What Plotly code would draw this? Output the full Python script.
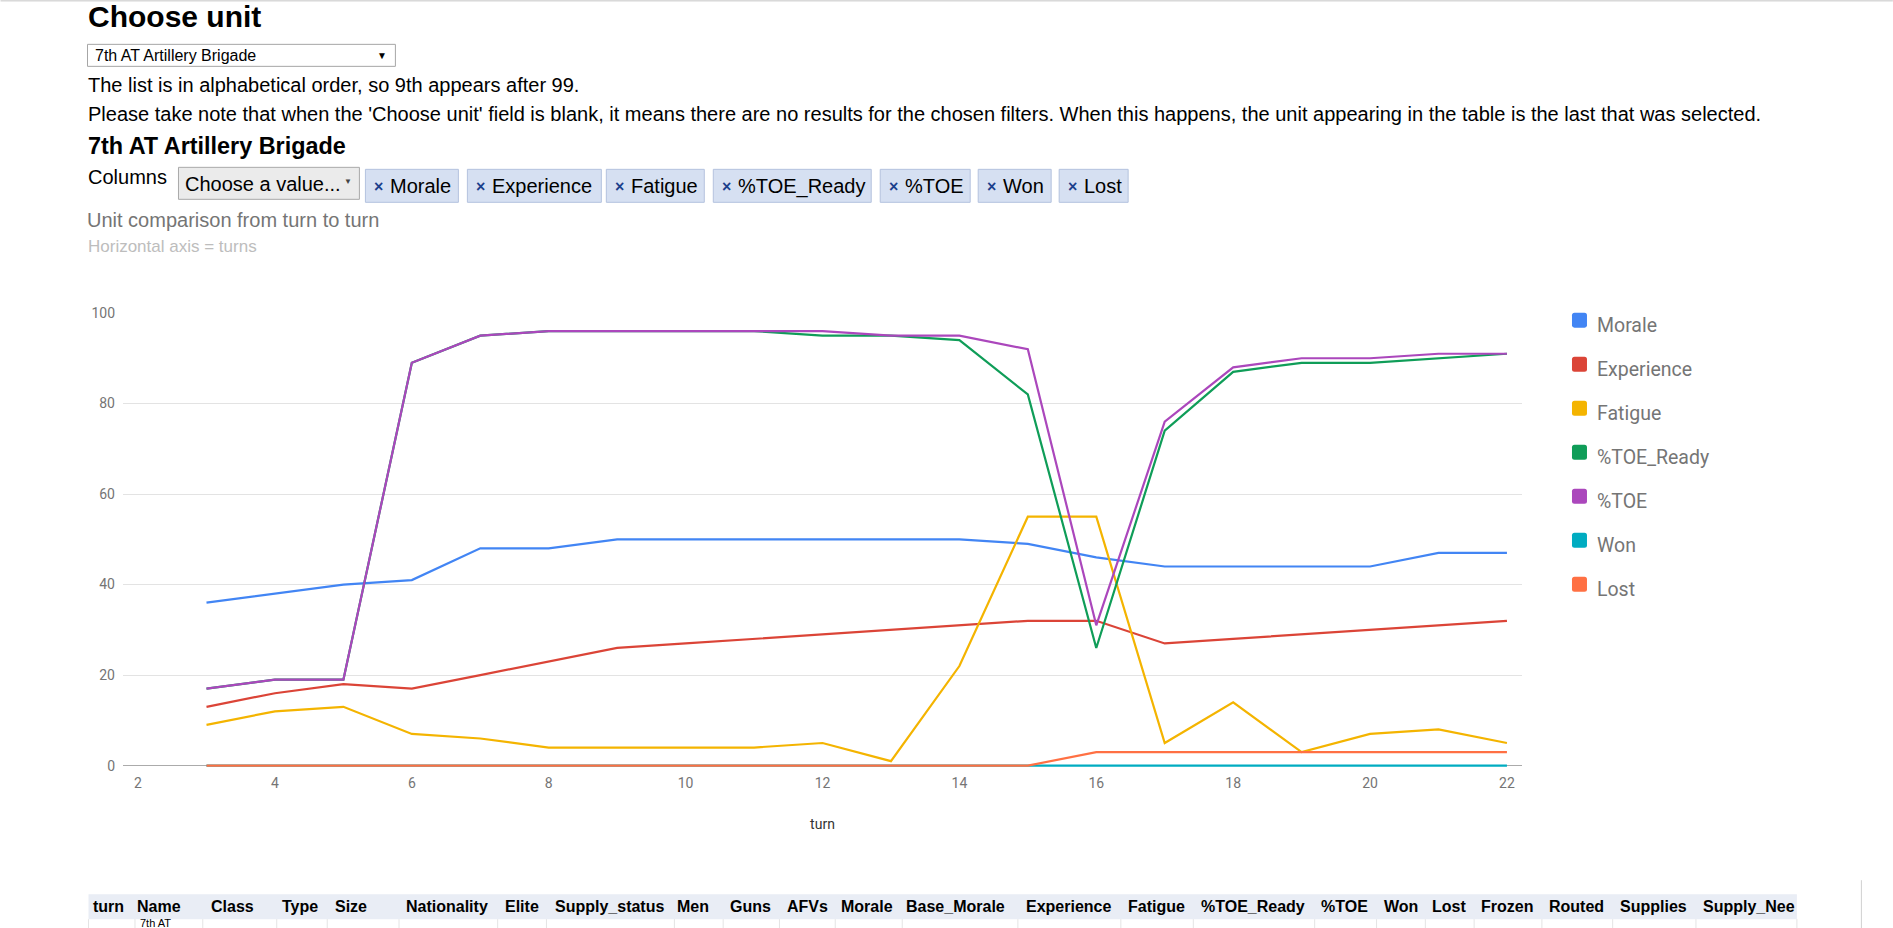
import plotly.graph_objects as go

# ---------------- data ----------------
turns = [3, 4, 5, 6, 7, 8, 9, 10, 11, 12, 13, 14, 15, 16, 17, 18, 19, 20, 21, 22]
morale = [36, 38, 40, 41, 48, 48, 50, 50, 50, 50, 50, 50, 49, 46, 44, 44, 44, 44, 47, 47]
experience = [13, 16, 18, 17, 20, 23, 26, 27, 28, 29, 30, 31, 32, 32, 27, 28, 29, 30, 31, 32]
fatigue = [9, 12, 13, 7, 6, 4, 4, 4, 4, 5, 1, 22, 55, 55, 5, 14, 3, 7, 8, 5]
toe_ready = [17, 19, 19, 89, 95, 96, 96, 96, 96, 95, 95, 94, 82, 26, 74, 87, 89, 89, 90, 91]
toe = [17, 19, 19, 89, 95, 96, 96, 96, 96, 96, 95, 95, 92, 31, 76, 88, 90, 90, 91, 91]
won = [0, 0, 0, 0, 0, 0, 0, 0, 0, 0, 0, 0, 0, 0, 0, 0, 0, 0, 0, 0]
lost = [0, 0, 0, 0, 0, 0, 0, 0, 0, 0, 0, 0, 0, 3, 3, 3, 3, 3, 3, 3]

series_names = ["Morale", "Experience", "Fatigue", "%TOE_Ready", "%TOE", "Won", "Lost"]
series_values = [morale, experience, fatigue, toe_ready, toe, won, lost]
series_colors = ["#4285F4", "#DB4437", "#F4B400", "#0F9D58", "#AB47BC", "#00ACC1", "#FF7043"]

table_columns = ["turn", "Name", "Class", "Type", "Size", "Nationality", "Elite", "Supply_status",
                 "Men", "Guns", "AFVs", "Morale", "Base_Morale", "Experience", "Fatigue",
                 "%TOE_Ready", "%TOE", "Won", "Lost", "Frozen", "Routed", "Supplies", "Supply_Nee"]

# ---------------- layout geometry (px) ----------------
W, H = 1893, 928
PL, PR, PT, PB = 122.5, 1522.0, 312.7, 766.8
ARIAL = "Arial, Liberation Sans, sans-serif"
ROBOTO = "Roboto, Arial, sans-serif"


def fx(x):
    return (x - PL) / (PR - PL)


def fy(y):
    return (PB - y) / (PB - PT)


shapes = []
annotations = []


def text(x, y, s, size, color="#000000", family=ARIAL, bold=False, anchor="left"):
    annotations.append(dict(
        x=fx(x), y=fy(y), xref="paper", yref="paper",
        text=("<b>%s</b>" % s) if bold else s, showarrow=False,
        xanchor=anchor, yanchor="middle", borderpad=0, borderwidth=0,
        font=dict(size=size, color=color, family=family)))


def rect(x0, y0, x1, y1, fill, line=None, lw=1):
    shapes.append(dict(
        type="rect", xref="paper", yref="paper",
        x0=fx(x0), x1=fx(x1), y0=fy(y1), y1=fy(y0),
        fillcolor=fill, line=dict(color=line if line else fill, width=lw if line else 0)))


def rounded(x0, y0, x1, y1, r, fill):
    # rounded square drawn as an SVG path in paper coordinates
    X = lambda v: fx(v)
    Y = lambda v: fy(v)
    path = (f"M {X(x0 + r)} {Y(y0)} L {X(x1 - r)} {Y(y0)} Q {X(x1)} {Y(y0)} {X(x1)} {Y(y0 + r)} "
            f"L {X(x1)} {Y(y1 - r)} Q {X(x1)} {Y(y1)} {X(x1 - r)} {Y(y1)} "
            f"L {X(x0 + r)} {Y(y1)} Q {X(x0)} {Y(y1)} {X(x0)} {Y(y1 - r)} "
            f"L {X(x0)} {Y(y0 + r)} Q {X(x0)} {Y(y0)} {X(x0 + r)} {Y(y0)} Z")
    shapes.append(dict(type="path", xref="paper", yref="paper", path=path,
                       fillcolor=fill, line=dict(width=0)))


def hline(x0, x1, y, color, lw=1):
    shapes.append(dict(type="line", xref="paper", yref="paper",
                       x0=fx(x0), x1=fx(x1), y0=fy(y), y1=fy(y),
                       line=dict(color=color, width=lw)))


def vline(x, y0, y1, color, lw=1):
    shapes.append(dict(type="line", xref="paper", yref="paper",
                       x0=fx(x), x1=fx(x), y0=fy(y0), y1=fy(y1),
                       line=dict(color=color, width=lw)))


fig = go.Figure()
for name, vals, col in zip(series_names, series_values, series_colors):
    fig.add_trace(go.Scatter(x=turns, y=vals, name=name, mode="lines",
                             line=dict(color=col, width=2.2), showlegend=False))

# ---------------- page header ----------------
hline(0, W, 0.5, "#c4c4c4", 1)
text(87, 16, "Choose unit", 30, bold=True)
rect(87, 44, 395, 66, "#ffffff", "#a6a6a6", 1)
text(94, 55.5, "7th AT Artillery Brigade", 16)
text(382, 55, "▼", 10, anchor="center")
text(87, 84.5, "The list is in alphabetical order, so 9th appears after 99.", 20)
text(87, 113.7, "Please take note that when the 'Choose unit' field is blank, it means there are no results "
                "for the chosen filters. When this happens, the unit appearing in the table is the last that was selected.", 20)
text(87, 145.5, "7th AT Artillery Brigade", 23.4, bold=True)

# Columns control
text(87, 177, "Columns", 20)
rect(178, 167, 359, 199, "#ebebeb", "#a9a9a9", 1)
text(185, 184, "Choose a value...", 20)
text(348, 181, "▼", 8, color="#444444", anchor="center")
chip_x = [(365, 458), (467, 601), (606, 704), (713, 871), (880, 970), (978, 1051), (1059, 1128)]
for (cx0, cx1), name in zip(chip_x, series_names):
    rect(cx0, 169, cx1, 202, "#d6e0f2", "#b4c2de", 1)
    text(cx0 + 13.5, 186, "×", 16, color="#1c3f8c", bold=True, anchor="center")
    text(cx0 + 25, 186, name, 20)

# Chart subtitle
text(87, 246, "Horizontal axis = turns", 17, color="#bdbdbd")

# ---------------- custom legend ----------------
for i, (name, col) in enumerate(zip(series_names, series_colors)):
    cy = 320 + i * 44
    rounded(1572, cy - 7.5, 1587, cy + 7.5, 2.5, col)
    text(1597, cy + 5, name, 19.5, color="#757575", family=ROBOTO)

# ---------------- table header ----------------
rect(88, 894, 1797, 919, "#e9edf5")
label_x = [92.6, 136.3, 210.9, 282, 334.9, 405.5, 504.8, 554.2, 677, 729.8, 787.2, 840.6, 905.5,
           1025.5, 1127.8, 1201, 1321.2, 1383.7, 1431.9, 1481.2, 1549, 1620.5, 1702.6]
for lx, lab in zip(label_x, table_columns):
    text(lx, 906.5, lab, 16, bold=True)
sep_x = [88, 134.5, 202.3, 276.3, 326.8, 398.6, 497.3, 546.1, 674.1, 722.9, 779.2, 835, 902,
         1017.7, 1120.7, 1193.2, 1314.6, 1376.5, 1425.3, 1474.1, 1541.9, 1612.7, 1696, 1797]
for sx in sep_x:
    vline(sx, 919, 928, "#e4e4e4")
text(140, 923, "7th AT", 11)
vline(1861.5, 880, 928, "#d0d0d0")

fig.update_layout(
    width=W, height=H,
    margin=dict(l=PL, r=W - PR, t=PT, b=H - PB, autoexpand=False),
    paper_bgcolor="#ffffff", plot_bgcolor="#ffffff",
    title=dict(text="Unit comparison from turn to turn", xref="container", yref="container",
               x=87 / W, xanchor="left", y=1 - 220 / H, yanchor="middle",
               font=dict(family=ARIAL, size=20, color="#757575")),
    showlegend=False,
    shapes=shapes, annotations=annotations,
    xaxis=dict(range=[1.78, 22.22], tick0=2, dtick=2, showgrid=False, zeroline=False,
               showline=False, ticks="", ticklabelstandoff=6,
               tickfont=dict(family=ROBOTO, size=14, color="#757575"),
               title=dict(text="turn", standoff=29, font=dict(family=ROBOTO, size=14, color="#333333"))),
    yaxis=dict(range=[-0.3, 100], tick0=0, dtick=20, showgrid=True, gridcolor="#e3e3e3", gridwidth=1,
               zeroline=True, zerolinecolor="#ababab", zerolinewidth=1, showline=False, ticks="",
               ticklabelstandoff=7,
               tickfont=dict(family=ROBOTO, size=14, color="#757575")),
)

fig.write_html("out.html")
